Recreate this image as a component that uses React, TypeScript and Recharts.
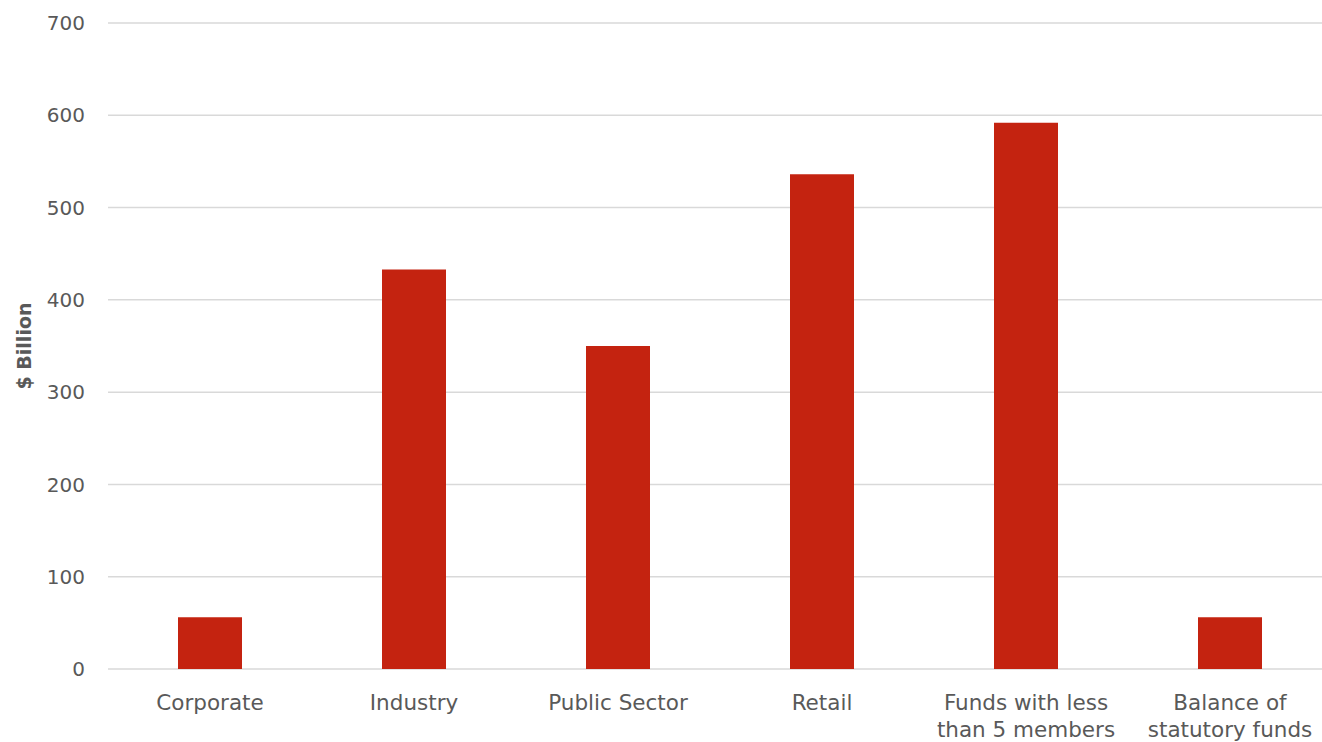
import React from 'react';
import { Bar, BarChart, CartesianGrid, XAxis, YAxis } from 'recharts';

const categories = ['Corporate', 'Industry', 'Public Sector', 'Retail', 'Funds with less than 5 members', 'Balance of statutory funds'];
const assets = [56, 433, 350, 536, 592, 56];
const tickLines: Record<string, string[]> = {
  Corporate: ['Corporate'],
  Industry: ['Industry'],
  'Public Sector': ['Public Sector'],
  Retail: ['Retail'],
  'Funds with less than 5 members': ['Funds with less', 'than 5 members'],
  'Balance of statutory funds': ['Balance of', 'statutory funds'],
};
const yTicks = [0, 100, 200, 300, 400, 500, 600, 700];

const data = categories.map((name, i) => ({ name, value: assets[i] }));

const font = '"DejaVu Sans", sans-serif';
const textColor = '#595959';

function CategoryTick(props: any) {
  const { x, payload } = props;
  const lines = tickLines[payload.value] ?? [payload.value];
  // baseline measured from the zero line
  return (
    <g transform={`translate(${x},669)`}>
      {lines.map((line, i) => (
        <text key={i} x={0} y={41 + i * 27} textAnchor="middle" fill={textColor} fontSize={21.5} fontFamily={font}>
          {line}
        </text>
      ))}
    </g>
  );
}

function AxisTitle(props: any) {
  const { viewBox } = props;
  const cy = viewBox.y + viewBox.height / 2;
  const cx = 31;
  return (
    <text x={cx} y={cy} transform={`rotate(-90, ${cx}, ${cy})`} textAnchor="middle" fill={textColor} fontSize={19} fontWeight="bold" fontFamily={font}>
      $ Billion
    </text>
  );
}

export default function App() {
  return (
    <div style={{ position: 'absolute', left: 0, top: 0, width: 1322, height: 742, overflow: 'hidden', background: '#fff' }}>
      <BarChart width={1332} height={742} data={data} margin={{ top: 23, right: 0, bottom: 0, left: 0 }} barSize={64}>
        <CartesianGrid vertical={false} stroke="#d9d9d9" strokeWidth={1.5} />
        <XAxis dataKey="name" axisLine={false} tickLine={false} height={73} interval={0} tick={<CategoryTick />} />
        <YAxis
          domain={[0, 700]}
          ticks={yTicks}
          width={108}
          axisLine={false}
          tickLine={false}
          tickSize={0}
          tickMargin={23}
          tick={{ fill: textColor, fontSize: 20, fontFamily: font }}
          label={<AxisTitle />}
        />
        <Bar dataKey="value" fill="#C42310" isAnimationActive={false} />
      </BarChart>
    </div>
  );
}
